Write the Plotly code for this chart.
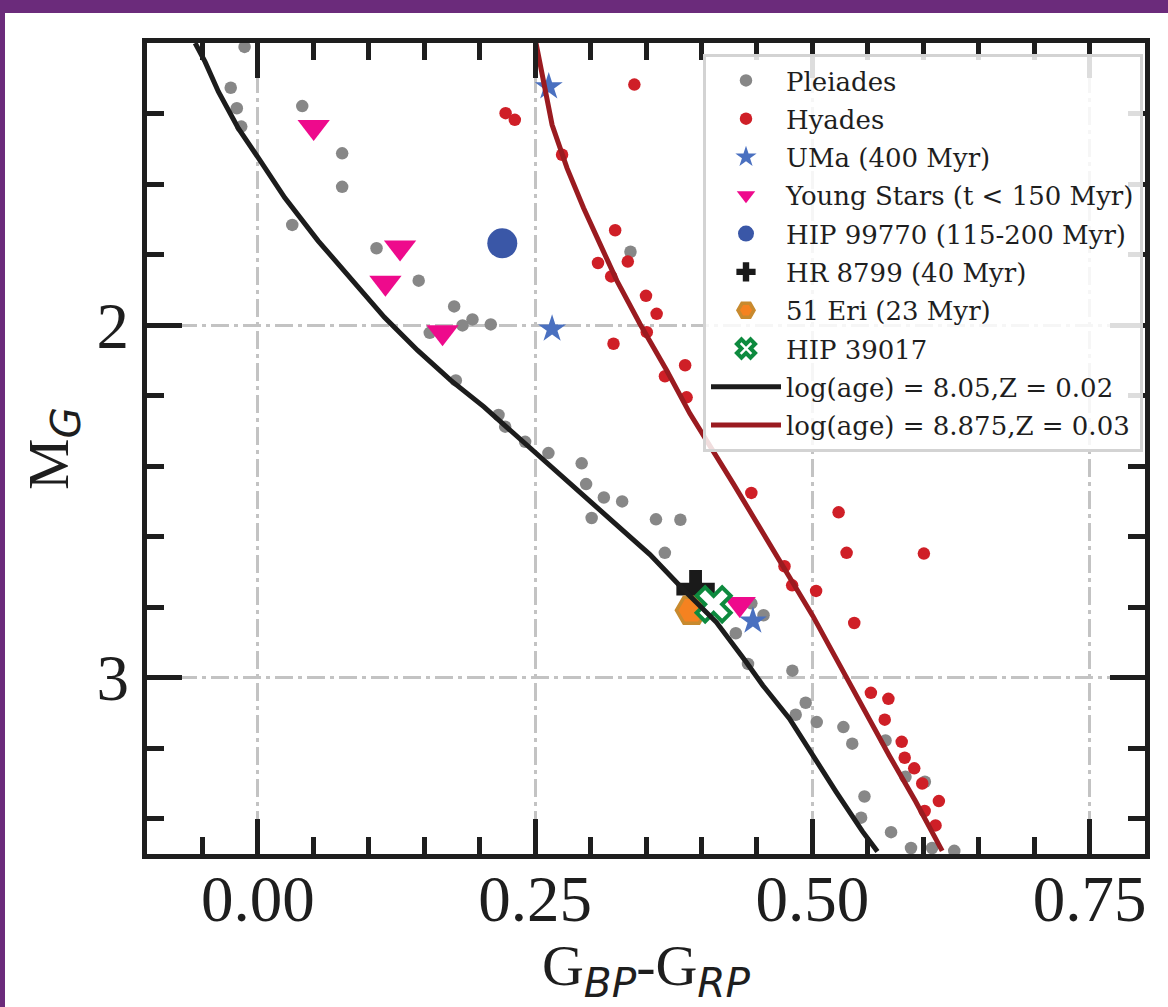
import plotly.graph_objects as go

# ---------------- data ----------------
pleiades_x = [-0.012, -0.0245, -0.019, -0.015, 0.040, 0.076, 0.076, 0.031, 0.107, 0.145,
              0.177, 0.1935, 0.1845, 0.210, 0.155, 0.1785, 0.217, 0.223, 0.241, 0.262,
              0.292, 0.296, 0.312, 0.3285, 0.301, 0.359, 0.381, 0.367, 0.445, 0.456,
              0.431, 0.442, 0.482, 0.494, 0.485, 0.504, 0.528, 0.536, 0.566, 0.584,
              0.6015, 0.547, 0.544, 0.571, 0.589, 0.608, 0.628, 0.336]
pleiades_y = [1.211, 1.327, 1.385, 1.437, 1.379, 1.513, 1.608, 1.716, 1.782, 1.874,
              1.947, 1.984, 2.001, 1.998, 2.022, 2.157, 2.255, 2.288, 2.331, 2.363,
              2.392, 2.451, 2.489, 2.500, 2.547, 2.551, 2.552, 2.646, 2.789, 2.823,
              2.874, 2.961, 2.980, 3.071, 3.105, 3.126, 3.140, 3.187, 3.178, 3.281,
              3.295, 3.337, 3.397, 3.438, 3.483, 3.483, 3.491, 1.792]

hyades_x = [0.3395, 0.2234, 0.2317, 0.2743, 0.3222, 0.3336, 0.3067, 0.3186, 0.350, 0.3596,
            0.3507, 0.3207, 0.3853, 0.3671, 0.3866, 0.445, 0.5237, 0.5309, 0.6006, 0.4749,
            0.4818, 0.5034, 0.5378, 0.5528, 0.5686, 0.5653, 0.5806, 0.5833, 0.5919, 0.5991,
            0.6141, 0.6013, 0.6111]
hyades_y = [1.318, 1.399, 1.418, 1.517, 1.731, 1.820, 1.824, 1.862, 1.917, 1.968,
            2.020, 2.053, 2.114, 2.145, 2.205, 2.476, 2.531, 2.646, 2.648, 2.684,
            2.738, 2.754, 2.845, 3.043, 3.060, 3.119, 3.182, 3.227, 3.257, 3.300,
            3.350, 3.378, 3.419]

uma_x = [0.2623, 0.2653, 0.4464]
uma_y = [1.324, 2.011, 2.839]

young_x = [0.0503, 0.1282, 0.115, 0.1665, 0.4345]
young_y = [1.438, 1.780, 1.880, 2.020, 2.791]

hip99770_x = [0.2204]
hip99770_y = [1.768]

hr8799_x = [0.3947]
hr8799_y = [2.749]

eri51_x = [0.391]
eri51_y = [2.809]

hip39017_x = [0.411]
hip39017_y = [2.792]

iso1_x = [-0.0566, -0.0476, -0.0356, -0.0176, 0.0004, 0.0243, 0.0543, 0.0825, 0.1141, 0.1441,
          0.174, 0.2039, 0.2305, 0.2675, 0.2975, 0.3237, 0.3536, 0.3835, 0.4135, 0.4405,
          0.4554, 0.4794, 0.5003, 0.5213, 0.5452, 0.5587]
iso1_y = [1.200, 1.2535, 1.338, 1.442, 1.526, 1.639, 1.761, 1.865, 1.978, 2.072,
          2.157, 2.232, 2.307, 2.411, 2.495, 2.571, 2.651, 2.749, 2.843, 2.956,
          3.022, 3.116, 3.220, 3.323, 3.436, 3.493]

iso2_x = [0.2508, 0.2578, 0.2653, 0.2788, 0.2937, 0.3087, 0.3237, 0.3446, 0.3686, 0.3896,
          0.4105, 0.4284, 0.4464, 0.4643, 0.4823, 0.5003, 0.5168, 0.5333, 0.5452, 0.5692,
          0.5932, 0.6171]
iso2_y = [1.200, 1.319, 1.432, 1.555, 1.668, 1.771, 1.874, 1.997, 2.128, 2.251,
          2.354, 2.448, 2.542, 2.636, 2.730, 2.824, 2.919, 3.013, 3.088, 3.220,
          3.351, 3.491]

x_ticks = [0.0, 0.25, 0.5, 0.75]
x_ticklabels = ["0.00", "0.25", "0.50", "0.75"]
y_ticks = [2, 3]
y_ticklabels = ["2", "3"]

# ---------------- figure ----------------
fig = go.Figure()

def add_pts(x, y, name, **marker):
    fig.add_trace(go.Scatter(x=x, y=y, mode="markers", name=name, legendgroup=name,
                             marker=marker))

add_pts(pleiades_x, pleiades_y, "Pleiades", color="#878787", size=12.5)
add_pts(hyades_x, hyades_y, "Hyades", color="#cf1f27", size=12.5)
add_pts(uma_x, uma_y, "UMa (400 Myr)", symbol="star", color="#4a70c0", size=21)
add_pts(young_x, young_y, "Young Stars (t &lt; 150 Myr)", symbol="triangle-down",
        color="#ee0a8c", size=28)
add_pts(hip99770_x, hip99770_y, "HIP 99770 (115-200 Myr)", color="#3a57a7", size=30)
add_pts(hr8799_x, hr8799_y, "HR 8799 (40 Myr)", symbol="cross", color="#1a1a1a", size=32)
add_pts(eri51_x, eri51_y, "51 Eri (23 Myr)", symbol="hexagon2", color="#f58220",
        size=30, line=dict(color="#c88a2e", width=3.5))
add_pts(hip39017_x, hip39017_y, "HIP 39017", symbol="x", color="white", size=30,
        line=dict(color="#0d8a3e", width=4))

fig.add_trace(go.Scatter(x=iso1_x, y=iso1_y, mode="lines", name="log(age) = 8.05,Z = 0.02",
                         legendgroup="iso1", line=dict(color="#1c1c1c", width=5)))
fig.add_trace(go.Scatter(x=iso2_x, y=iso2_y, mode="lines", name="log(age) = 8.875,Z = 0.03",
                         legendgroup="iso2", line=dict(color="#9a1b20", width=5)))

L, T, W, H = 147, 43, 998, 811
FW, FH = 1168, 1007

axis_common = dict(
    showline=True, linecolor="#1e1e1e", linewidth=5, mirror="ticks",
    ticks="inside", ticklen=35, tickwidth=5, tickcolor="#1e1e1e",
    showgrid=True, gridcolor="#c3c3c3", gridwidth=3, griddash="18px,5px,4px,5px",
    zeroline=False,
    tickfont=dict(family="Liberation Serif", size=65, color="#1e1e1e"),
)

fig.update_xaxes(
    range=[-0.1, 0.8], tickvals=x_ticks, ticktext=x_ticklabels,
    ticklabelstandoff=-16,
    minor=dict(dtick=0.05, tick0=0, ticks="inside", ticklen=17, tickwidth=5,
               tickcolor="#1e1e1e", showgrid=False),
    title=dict(text='G<sub><span style="font-family:DejaVu Sans"><i>BP</i></span></sub>-G'
                    '<sub><span style="font-family:DejaVu Sans"><i>RP</i></span></sub>',
               font=dict(family="Liberation Serif", size=58, color="#1e1e1e"), standoff=26),
    **axis_common,
)
fig.update_yaxes(
    range=[3.5, 1.2], tickvals=y_ticks, ticktext=y_ticklabels,
    minor=dict(dtick=0.2, tick0=0, ticks="inside", ticklen=17, tickwidth=5,
               tickcolor="#1e1e1e", showgrid=False),
    title=dict(text='M<sub><span style="font-family:DejaVu Sans"><i>G</i></span></sub>',
               font=dict(family="Liberation Serif", size=58, color="#1e1e1e"), standoff=11),
    **axis_common,
)

# white panel on purple background (layout decoration)
fig.add_shape(type="rect", xref="paper", yref="paper", layer="below",
              x0=(5 - L) / W, x1=(FW + 10 - L) / W,
              y0=1 - (FH + 10 - T) / H, y1=1 + (T - 13) / H,
              fillcolor="white", line=dict(width=0))

fig.update_layout(
    width=FW, height=FH,
    margin=dict(l=L, r=FW - L - W, t=T, b=FH - T - H, autoexpand=False),
    paper_bgcolor="#6b2b7b", plot_bgcolor="white",
    showlegend=True,
    legend=dict(
        x=(703 - L) / W, y=1 - (54 - T) / H, xanchor="left", yanchor="top",
        bgcolor="rgba(255,255,255,0.85)", bordercolor="#d3d3d3", borderwidth=3,
        font=dict(family="DejaVu Serif", size=26, color="#1e1e1e"),
        tracegroupgap=1.5, itemwidth=70,
    ),
)

fig.write_html("out.html")
